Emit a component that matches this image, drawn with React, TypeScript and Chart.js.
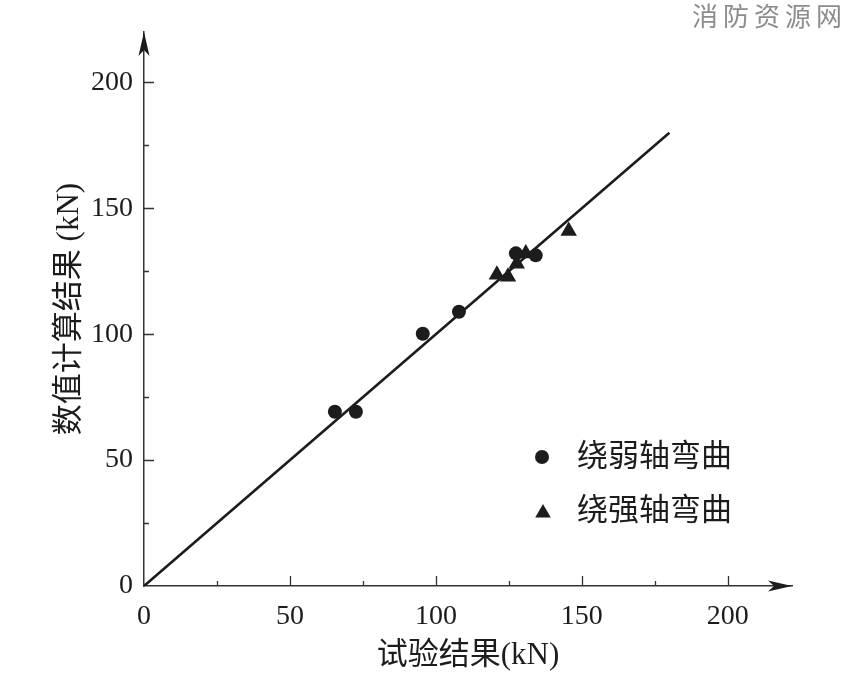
import React, { useEffect, useRef } from "react";
import { Chart, registerables } from "chart.js";

Chart.register(...registerables);

// 绕弱轴弯曲 (circles)
const weakAxisX = [65.4, 72.6, 95.5, 107.9, 127.4, 134.2];
const weakAxisY = [69.2, 69.2, 100.2, 108.9, 132.1, 131.3];
// 绕强轴弯曲 (triangles)
const strongAxisX = [120.9, 124.7, 127.7, 130.8, 145.5];
const strongAxisY = [123.6, 122.8, 128.0, 132.0, 141.0];
// y = x reference line
const refLineX = [0, 180];
const refLineY = [0, 180];

const tickLabels = [0, 50, 100, 150, 200];
const seriesNames = ["绕弱轴弯曲", "绕强轴弯曲"];
const xTitle = "试验结果(kN)";
const yTitle = "数值计算结果 (kN)";
const watermark = "消防资源网";

const INK = "#1c1c1c";
const AXIS_COLOR = "#333333";
const SERIF = "'Liberation Serif', 'Noto Sans CJK SC', serif";

const toPoints = (xs: number[], ys: number[]) =>
  xs.map((x, i) => ({ x, y: ys[i] }));

const drawTriangle = (
  ctx: CanvasRenderingContext2D,
  x: number,
  y: number,
  r: number
) => {
  ctx.beginPath();
  ctx.moveTo(x, y - r);
  ctx.lineTo(x + r * Math.sin((2 * Math.PI) / 3), y + r / 2);
  ctx.lineTo(x - r * Math.sin((2 * Math.PI) / 3), y + r / 2);
  ctx.closePath();
  ctx.fill();
};

// inward tick marks + arrow heads on both axes
const axisDecor = {
  id: "axisDecor",
  afterDraw(chart: any) {
    const { ctx, chartArea, scales } = chart;
    const xs = scales.x;
    const ys = scales.y;
    ctx.save();
    ctx.strokeStyle = AXIS_COLOR;
    ctx.lineWidth = 1.3;
    ctx.beginPath();
    xs.ticks.forEach((t: any) => {
      if (t.value === 0) return;
      const px = Math.round(xs.getPixelForValue(t.value)) + 0.5;
      const len = t.value % 50 === 0 ? 10 : 5;
      ctx.moveTo(px, chartArea.bottom);
      ctx.lineTo(px, chartArea.bottom - len);
    });
    ys.ticks.forEach((t: any) => {
      if (t.value === 0) return;
      const py = Math.round(ys.getPixelForValue(t.value)) + 0.5;
      const len = t.value % 50 === 0 ? 10 : 5;
      ctx.moveTo(chartArea.left, py);
      ctx.lineTo(chartArea.left + len, py);
    });
    ctx.stroke();

    ctx.fillStyle = INK;
    // x arrow
    const ax = chartArea.right;
    const ay = chartArea.bottom;
    ctx.beginPath();
    ctx.moveTo(ax, ay);
    ctx.lineTo(ax - 24, ay - 5.5);
    ctx.lineTo(ax - 18, ay);
    ctx.lineTo(ax - 24, ay + 5.5);
    ctx.closePath();
    ctx.fill();
    // y arrow
    const bx = chartArea.left;
    const by = chartArea.top;
    ctx.beginPath();
    ctx.moveTo(bx, by);
    ctx.lineTo(bx - 5.5, by + 24);
    ctx.lineTo(bx, by + 18);
    ctx.lineTo(bx + 5.5, by + 24);
    ctx.closePath();
    ctx.fill();
    ctx.restore();
  },
};

// legend inside the plot area, lower right
const legendInside = {
  id: "legendInside",
  afterDraw(chart: any) {
    const { ctx } = chart;
    ctx.save();
    ctx.fillStyle = INK;
    ctx.font = `31px ${SERIF}`;
    ctx.textBaseline = "middle";
    ctx.textAlign = "left";
    // circle row
    ctx.beginPath();
    ctx.arc(542, 457, 7, 0, Math.PI * 2);
    ctx.fill();
    ctx.fillText(seriesNames[0], 577, 458);
    // triangle row
    drawTriangle(ctx, 543, 513, 9);
    ctx.fillText(seriesNames[1], 577, 512);
    ctx.restore();
  },
};

const App: React.FC = () => {
  const canvasRef = useRef<HTMLCanvasElement>(null);

  useEffect(() => {
    if (!canvasRef.current) return;
    const ctx = canvasRef.current.getContext("2d");
    if (!ctx) return;

    const tickFont = { family: SERIF, size: 28 };
    const titleFont = { family: SERIF, size: 31 };

    const chart = new Chart(ctx, {
      type: "scatter",
      data: {
        datasets: [
          {
            label: seriesNames[0],
            data: toPoints(weakAxisX, weakAxisY),
            pointStyle: "circle",
            pointRadius: 7,
            backgroundColor: INK,
            borderColor: INK,
            borderWidth: 0,
          },
          {
            label: seriesNames[1],
            data: toPoints(strongAxisX, strongAxisY),
            pointStyle: "triangle",
            pointRadius: 9.5,
            backgroundColor: INK,
            borderColor: INK,
            borderWidth: 0,
          },
          {
            label: "y = x",
            data: toPoints(refLineX, refLineY),
            showLine: true,
            pointRadius: 0,
            borderColor: INK,
            borderWidth: 2.6,
          },
        ],
      },
      options: {
        responsive: false,
        animation: false,
        layout: { padding: { top: 32, right: 55, left: 0, bottom: 0 } },
        plugins: {
          legend: { display: false },
          tooltip: { enabled: false },
        },
        scales: {
          x: {
            type: "linear",
            min: 0,
            max: 222,
            grid: { display: false, drawTicks: false },
            border: { display: true, color: AXIS_COLOR, width: 1.5 },
            ticks: {
              stepSize: 25,
              includeBounds: false,
              autoSkip: false,
              maxRotation: 0,
              padding: 14,
              color: INK,
              font: tickFont,
              callback: (v: any) =>
                tickLabels.includes(Number(v)) ? String(v) : "",
            },
            title: {
              display: true,
              text: xTitle,
              color: INK,
              font: titleFont,
              padding: { top: 15, bottom: 15 },
            },
            afterFit: (s: any) => {
              s.height = 103;
            },
          },
          y: {
            type: "linear",
            min: 0,
            max: 220,
            grid: { display: false, drawTicks: false },
            border: { display: true, color: AXIS_COLOR, width: 1.5 },
            ticks: {
              stepSize: 25,
              includeBounds: false,
              autoSkip: false,
              padding: 11,
              color: INK,
              font: tickFont,
              callback: (v: any) =>
                tickLabels.includes(Number(v)) ? String(v) : "",
            },
            title: {
              display: true,
              text: yTitle,
              color: INK,
              font: titleFont,
              padding: { top: 51, bottom: 0 },
            },
            afterFit: (s: any) => {
              s.width = 144;
            },
          },
        },
      },
      plugins: [axisDecor, legendInside],
    });

    return () => chart.destroy();
  }, []);

  return (
    <div
      style={{
        position: "fixed",
        left: 0,
        top: 0,
        width: 847,
        height: 689,
        background: "#ffffff",
      }}
    >
      <canvas ref={canvasRef} width={847} height={689} />
      <div
        style={{
          position: "absolute",
          left: 692,
          top: 2,
          fontFamily: "'Noto Sans CJK SC', sans-serif",
          fontSize: 26,
          lineHeight: 1,
          letterSpacing: 5,
          color: "#8c8c8c",
          whiteSpace: "nowrap",
        }}
      >
        {watermark}
      </div>
    </div>
  );
};

export default App;
